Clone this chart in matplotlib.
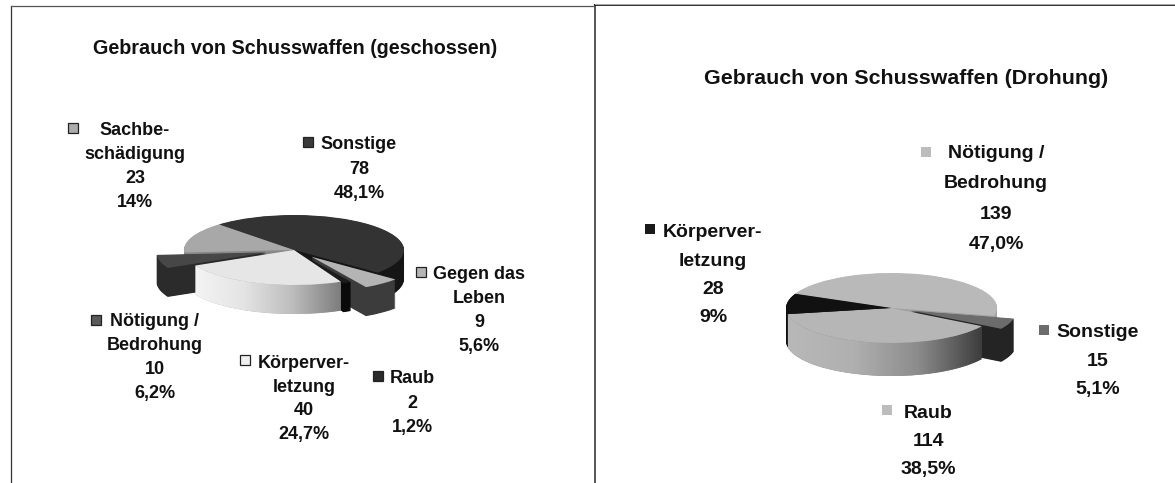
import numpy as np
import matplotlib
matplotlib.use("Agg")
import matplotlib.pyplot as plt
from matplotlib.path import Path
from matplotlib.patches import PathPatch
from matplotlib.colors import LinearSegmentedColormap

W, H = 1175, 483

# ---- data ----
title_left = "Gebrauch von Schusswaffen (geschossen)"
cats_left = ["Sonstige", "Gegen das\nLeben", "Raub", "Körperver-\nletzung", "Nötigung /\nBedrohung", "Sachbe-\nschädigung"]
vals_left = [78, 9, 2, 40, 10, 23]
pcts_left = ["48,1%", "5,6%", "1,2%", "24,7%", "6,2%", "14%"]

title_right = "Gebrauch von Schusswaffen (Drohung)"
cats_right = ["Nötigung /\nBedrohung", "Sonstige", "Raub", "Körperver-\nletzung"]
vals_right = [139, 15, 114, 28]
pcts_right = ["47,0%", "5,1%", "38,5%", "9%"]

# ---- styles ----
top_left = ["#333333", "#b4b4b4", "#1c1c1c", "#e6e6e6", "#474747", "#a8a8a8"]
side_left = ["#151515", "#3c3c3c", "#0a0a0a", "#b0b0b0", "#2b2b2b", "#888888"]
mark_left = ["#3a3a3a", "#b4b4b4", "#2a2a2a", "#f0f0f0", "#5a5a5a", "#ababab"]
expl_left = [0, 0.25, 0.05, 0, 0.26, 0]

top_right = ["#b9b9b9", "#6c6c6c", "#b6b6b6", "#111111"]
side_right = ["#a0a0a0", "#242424", "#8a8a8a", "#0c0c0c"]
mark_right = ["#bcbcbc", "#6c6c6c", "#bcbcbc", "#1a1a1a"]
expl_right = [0, 0.2, 0, 0]

# layout: centre x, first-line y, line step, marker x, marker y
lay_left = [(359, 143, 24.5, 308, 142), (479, 273, 24, 421, 272), (412, 377, 24.5, 378, 376),
            (304, 362, 23.5, 245, 360), (155, 320, 24, 96, 320), (135, 129, 24, 73, 128)]
lay_right = [(996, 152, 30.5, 926, 152), (1098, 331, 28.5, 1044, 330),
             (928, 412, 28, 887, 410), (713, 231, 28.5, 650, 229)]

fig = plt.figure(figsize=(W / 100, H / 100), dpi=100, facecolor="white")
plt.rcParams["font.family"] = ["Liberation Sans", "DejaVu Sans"]


def draw_pie(cx, cy, rx, ry, depth, vals, start, expl, tops, sides, grad):
    ax = fig.add_axes([(cx - 1.5 * rx) / W, 1 - (cy + 2.5 * ry) / H, 3 * rx / W, 5 * ry / H])
    d = depth / ry
    n = int(depth) * 2
    for k in range(n, 0, -1):
        wedges, _ = ax.pie(vals, startangle=start, counterclock=False, explode=expl, colors=sides,
                           center=(0, -d * k / n), radius=1, wedgeprops={"linewidth": 0})
        for w in wedges:
            w.set_zorder(1)
    # curved-face shading, limited to the front of the slice
    shares = np.cumsum([0] + list(vals)) / sum(vals) * 360
    for idx, cols in grad.items():
        a1 = start - shares[idx + 1]
        a2 = start - shares[idx]
        th = np.radians(np.linspace(a1, a2, 80))
        th = th[np.sin(th) < 0.02]
        mid = np.radians((a1 + a2) / 2)
        ox, oy = expl[idx] * np.cos(mid), expl[idx] * np.sin(mid)
        xs = np.cos(th) + ox
        ys = np.sin(th) + oy
        verts = np.r_[np.c_[xs, ys], np.c_[xs[::-1], ys[::-1] - d], [[xs[0], ys[0]]]]
        cmap = LinearSegmentedColormap.from_list("g", cols)
        im = ax.imshow(np.linspace(0, 1, 256)[None, :], cmap=cmap, aspect="auto", zorder=2,
                       extent=(xs.min(), xs.max(), ys.min() - d, ys.max()))
        im.set_clip_path(PathPatch(Path(verts), transform=ax.transData))
    wedges, _ = ax.pie(vals, startangle=start, counterclock=False, explode=expl, colors=tops,
                       radius=1, wedgeprops={"linewidth": 0})
    for w in wedges:
        w.set_zorder(3)
    ax.set_aspect("auto")
    ax.set_xlim(-1.5, 1.5)
    ax.set_ylim(-2.5, 2.5)
    ax.axis("off")


draw_pie(294, 250, 110, 35, 29, vals_left, 133, expl_left, top_left, side_left,
         {3: ["#f4f4f4", "#e4e4e4", "#bdbdbd", "#7d7d7d"]})
draw_pie(891.5, 308, 105.5, 35, 33, vals_right, 156, expl_right, top_right, side_right,
         {2: ["#b8b8b8", "#b0b0b0", "#8c8c8c", "#3c3c3c"]})

ov = fig.add_axes([0, 0, 1, 1], facecolor="none")
ov.set_xlim(0, W)
ov.set_ylim(H, 0)
ov.axis("off")

# panel borders
ov.plot([10.5, 10.5], [5.5, H], color="#333333", lw=0.9)
ov.plot([10.5, 594], [5.5, 5.5], color="#555555", lw=0.9)
ov.plot([594.5, 594.5], [5, H], color="#555555", lw=1.4)
ov.plot([595, W], [5.3, 5.3], color="#111111", lw=1.2)
ov.plot([595, W], [4.2, 4.2], color="#aaaaaa", lw=0.7)

ov.text(295, 54, title_left, ha="center", va="baseline", fontsize=14.25, fontweight="bold", color="#111111")
ov.text(906, 84, title_right, ha="center", va="baseline", fontsize=15.4, fontweight="bold", color="#111111")


def labels(cats, vals, pcts, lay, marks, size, edge):
    for c, v, p, (x, y, step, mx, my), col in zip(cats, vals, pcts, lay, marks):
        rows = c.split("\n") + [str(v), p]
        for i, r in enumerate(rows):
            ov.text(x, y + i * step + 6, r, ha="center", va="baseline", fontsize=size,
                    fontweight="bold", color="#111111")
        ov.plot([mx], [my], marker="s", ms=6.5, mfc=col, mec=edge, mew=0.9 if edge != "none" else 0)


labels(cats_left, vals_left, pcts_left, lay_left, mark_left, 13, "#222222")
labels(cats_right, vals_right, pcts_right, lay_right, mark_right, 14, "none")

fig.savefig("out.png", dpi=100)
